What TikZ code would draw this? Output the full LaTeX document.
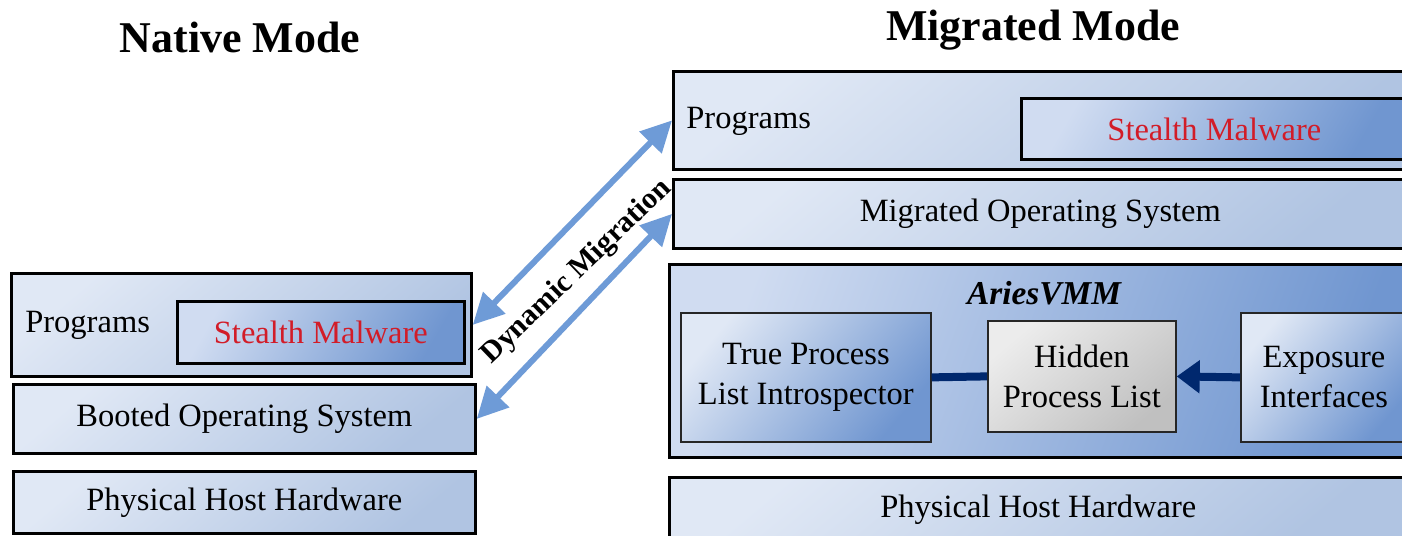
\documentclass[tikz,border=0pt]{standalone}
\usepackage{fontspec}
\setmainfont{Liberation Serif}
\usetikzlibrary{arrows.meta,positioning,calc}
\definecolor{lightA}{RGB}{224,232,245}
\definecolor{lightB}{RGB}{176,196,226}
\definecolor{midA}{RGB}{208,220,241}
\definecolor{midB}{RGB}{112,150,208}
\definecolor{greyA}{RGB}{236,236,236}
\definecolor{greyB}{RGB}{192,192,192}
\definecolor{migblue}{RGB}{110,155,215}
\definecolor{navy}{RGB}{0,40,110}
\definecolor{malred}{RGB}{210,28,40}
\tikzset{
  layer/.style={draw=black, line width=1.6pt, inner sep=0pt, anchor=north west,
    top color=lightA, bottom color=lightB, shading angle=40,
    font=\fontsize{18.5}{22}\selectfont},
  malbox/.style={layer, top color=midA, bottom color=midB, shading angle=60,
    text=malred},
  vmmbox/.style={layer, top color=midA, bottom color=midB, shading angle=70},
  inbox/.style={draw=black!85, line width=1pt, inner sep=0pt, anchor=north west,
    top color=lightA, bottom color=midB, shading angle=50, align=center,
    font=\fontsize{18.5}{22.7}\selectfont},
  greybox/.style={inbox, top color=greyA, bottom color=greyB, shading angle=40},
  lbl/.style={inner sep=0pt, font=\fontsize{18.5}{22}\selectfont},
  ttl/.style={inner sep=0pt, font=\fontsize{25}{30}\bfseries\selectfont},
  mig/.style={draw=migblue, line width=0.12cm,
    {Triangle[width=0.6cm,length=0.62cm]}-{Triangle[width=0.6cm,length=0.62cm]}},
}
\begin{document}
\begin{tikzpicture}[x=0.02cm,y=-0.02cm]
\useasboundingbox (0,0) rectangle (1402,535);
\clip (0,0) rectangle (1402,535);
% titles
\node[ttl] (tnat) at (240,37) {Native Mode};
\node[ttl] (tmig) at (1033,30) {Migrated Mode};
% native side
\node[layer, minimum width=9.2cm, minimum height=2.06cm] (lprog) at (10,272) {};
\node[lbl, anchor=west] (lprogt) at ([xshift=0.3cm]lprog.west) {Programs};
\node[malbox, minimum width=5.74cm, minimum height=1.24cm] (lmal) at (176,300) {Stealth Malware};
\node[layer, minimum width=9.24cm, minimum height=1.38cm] (lbos) at (12,383) {Booted Operating System};
\node[layer, minimum width=9.24cm, minimum height=1.24cm] (lphy) at (12,470) {Physical Host Hardware};
% migrated side
\node[layer, minimum width=14.68cm, minimum height=1.96cm] (rprog) at (672,70) {};
\node[lbl, anchor=west] (rprogt) at ([xshift=0.28cm,yshift=-0.02cm]rprog.west) {Programs};
\node[malbox, minimum width=7.72cm, minimum height=1.22cm] (rmal) at (1020,97) {Stealth Malware};
\node[layer, minimum width=14.68cm, minimum height=1.38cm] (rmos) at (672,178) {Migrated Operating System};
\node[vmmbox, minimum width=14.76cm, minimum height=3.86cm] (aries) at (668,263) {};
\node[lbl, font=\fontsize{19}{22}\bfseries\itshape\selectfont] (ariest) at (1044,293) {AriesVMM};
\node[inbox, minimum width=5.0cm, minimum height=2.58cm] (tpl) at (680,312) {True Process\\List Introspector};
\node[greybox, minimum width=3.76cm, minimum height=2.22cm] (hpl) at (987,320) {Hidden\\Process List};
\node[inbox, minimum width=3.32cm, minimum height=2.58cm] (exp) at (1240,312) {Exposure\\Interfaces};
\node[layer, minimum width=14.76cm, minimum height=1.28cm] (rphy) at (668,476) {Physical Host Hardware};
% internal connectors
\draw[navy, line width=0.16cm] (tpl.east) -- (hpl.west);
\draw[navy, line width=0.16cm, -{Triangle[width=0.64cm,length=0.46cm]}] (exp.west) -- (hpl.east);
% migration arrows
\draw[mig] (lprog.east) -- (rprog.west);
\draw[mig] (lbos.east) -- (rmos.west);
\node[inner sep=0pt, rotate=44, font=\fontsize{17}{20}\bfseries\selectfont] (dyn) at (577,272) {Dynamic Migration};
\end{tikzpicture}
\end{document}
